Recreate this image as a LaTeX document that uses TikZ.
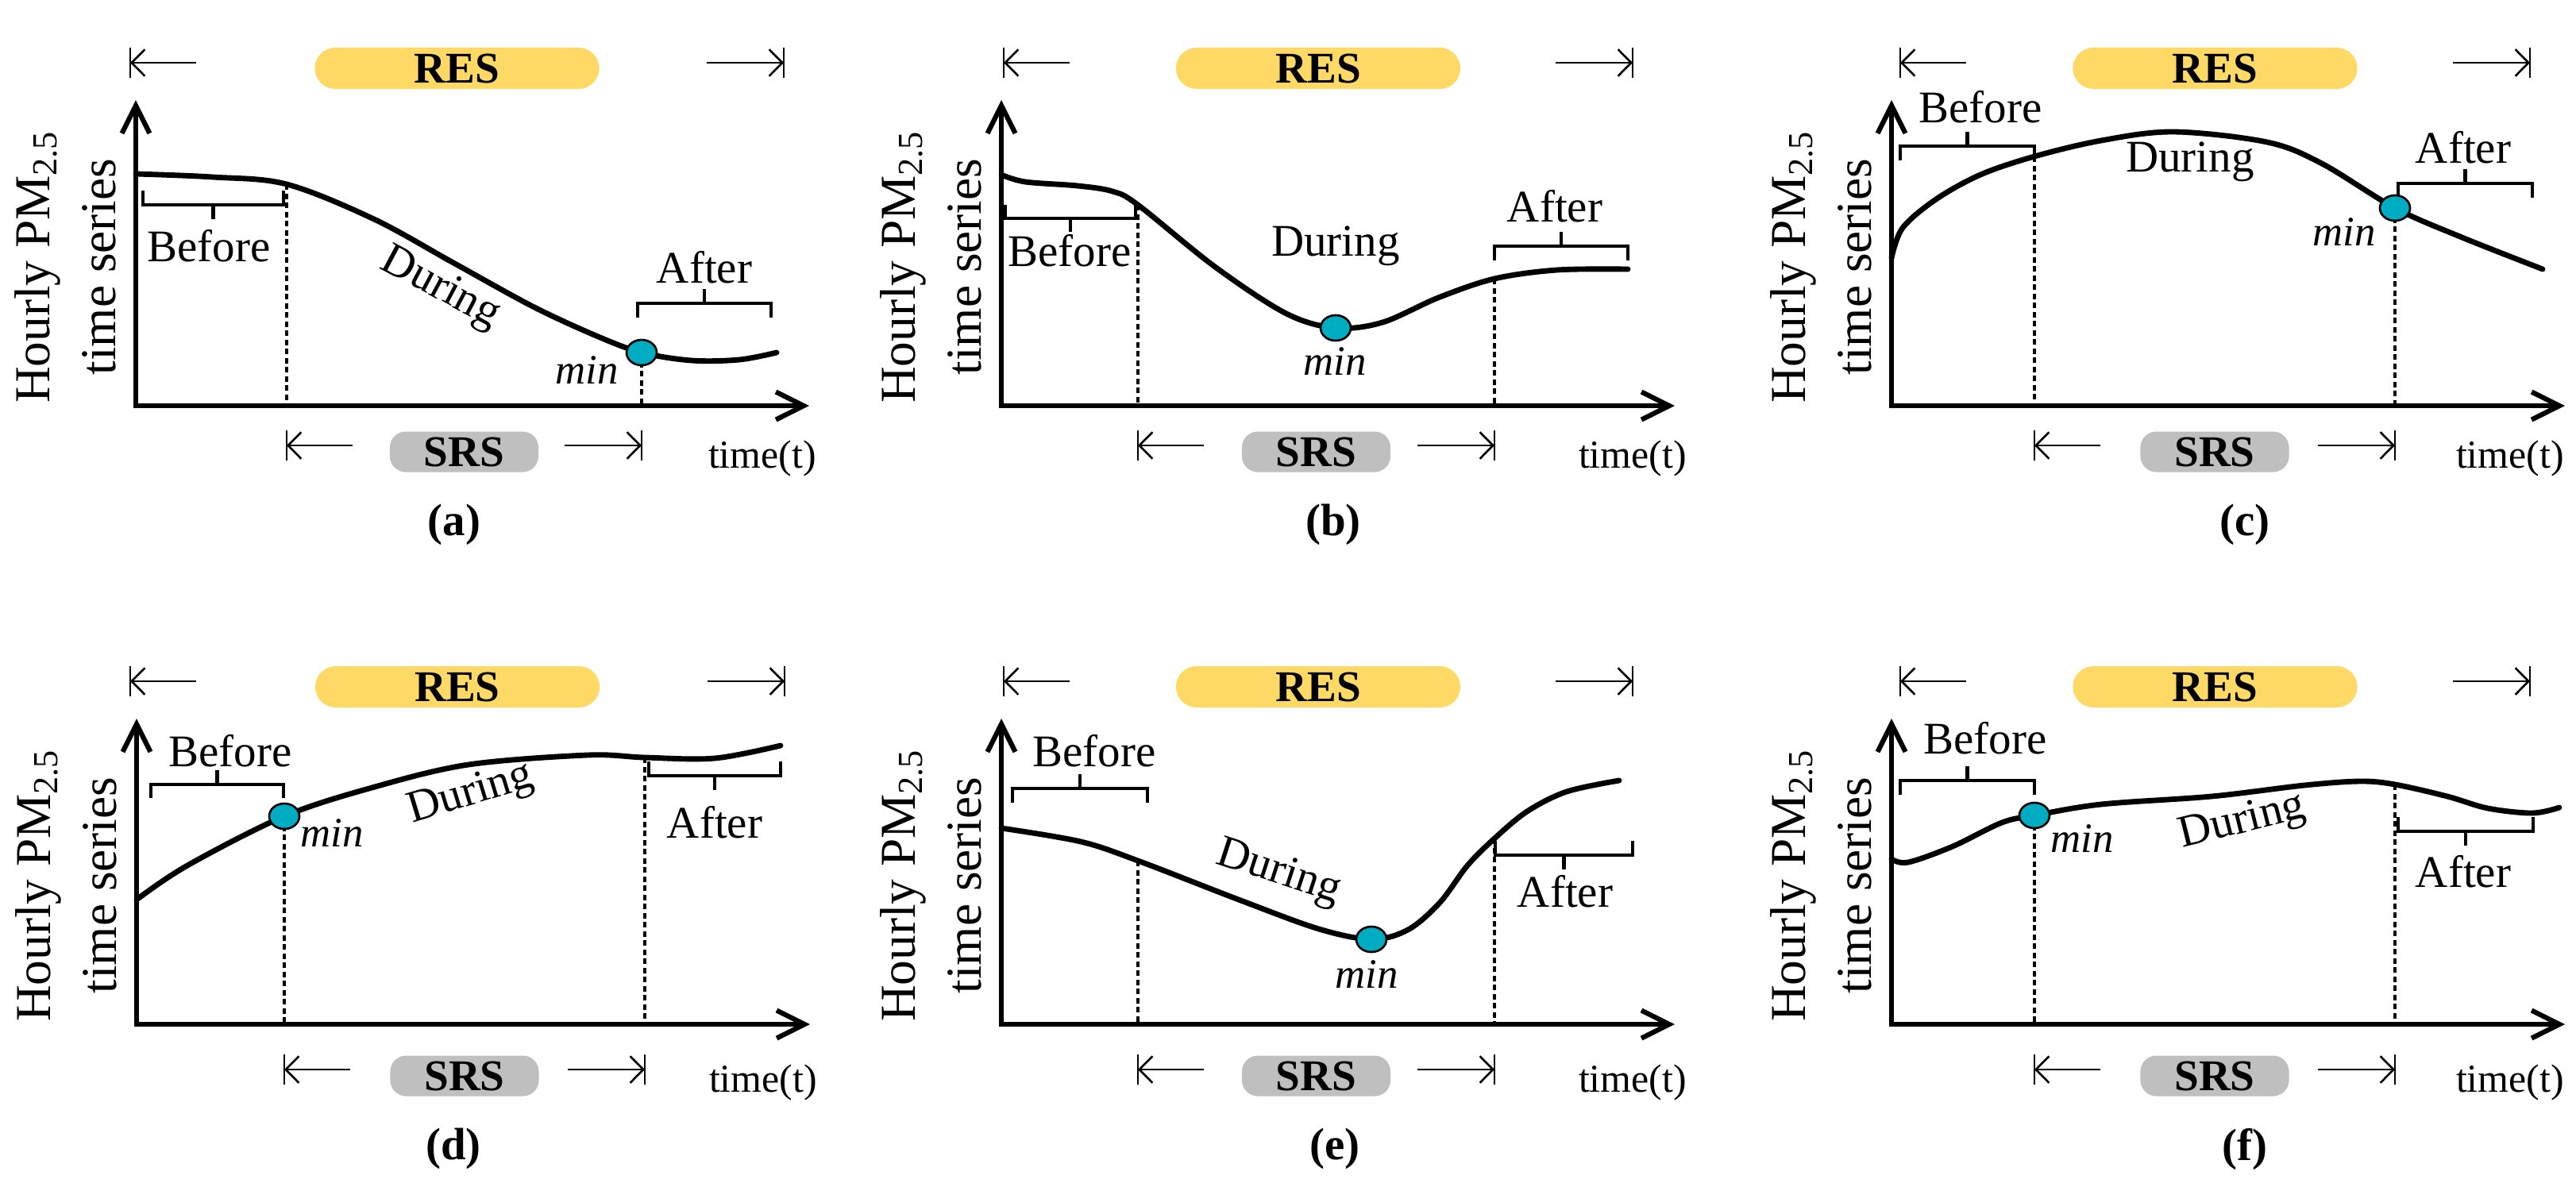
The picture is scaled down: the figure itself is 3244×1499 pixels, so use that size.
\documentclass[tikz,border=0pt]{standalone}
\usepackage{fontspec}
\setmainfont{Liberation Serif}
\usetikzlibrary{arrows.meta,shapes.geometric}
\definecolor{resY}{RGB}{255,217,102}
\definecolor{srsG}{RGB}{191,191,191}
\definecolor{minC}{RGB}{0,172,193}
\tikzset{
  axisarrow/.style={line width=1.75pt,
    {Straight Barb[length=3.5mm,width=3.5mm]}-{Straight Barb[length=3.5mm,width=3.5mm]}},
  thinline/.style={line width=0.75pt},
  thinarrow/.style={line width=0.75pt,-{Straight Barb[length=1.65mm,width=3.35mm]}},
  curve/.style={line width=1.95pt,line cap=round,line join=round},
  brk/.style={line width=1.4pt},
  dashline/.style={line width=1.05pt,dash pattern=on 0.07cm off 0.045cm},
  mindot/.style={ellipse,draw=black,line width=0.75pt,fill=minC,minimum width=0.38cm,minimum height=0.32cm,inner sep=0pt},
  txt/.style={font=\fontsize{16.2}{19}\selectfont,inner sep=0pt},
  mintxt/.style={font=\fontsize{15}{18}\selectfont\itshape,inner sep=0pt},
  timetxt/.style={font=\fontsize{14.2}{17}\selectfont,inner sep=0pt},
  labtxt/.style={font=\fontsize{16.2}{19}\selectfont\bfseries,inner sep=0pt},
  ylab/.style={font=\fontsize{18}{23.6}\selectfont,align=center,rotate=90,inner sep=0pt},
  respill/.style={fill=resY,rounded corners=0.26cm,minimum width=3.58cm,minimum height=0.52cm,inner sep=0pt,font=\fontsize{15.7}{18}\selectfont\bfseries},
  srspill/.style={fill=srsG,rounded corners=0.2cm,minimum width=1.87cm,minimum height=0.51cm,inner sep=0pt,font=\fontsize{15.7}{18}\selectfont\bfseries},
}
% #1 prefix, #2 ox, #3 oy, #4 RES left bar, #5 RES right bar, #6 x1, #7 x2, #8 label, #9 label x
\newcommand{\PanelFrame}[9]{%
\begin{scope}[shift={(#2,#3)}]
  \coordinate (#1-o) at (0,0);
  \coordinate (#1-yt) at (0,-385);
  \coordinate (#1-xt) at (848,0);
  \draw[axisarrow] (#1-yt) -- (#1-o) -- (#1-xt);
  \node[ylab] (#1-ylab) at (-89,-175) {Hourly PM\textsubscript{2.5}\\time series};
  % RES
  \coordinate (#1-rlb) at (#4,-432);
  \coordinate (#1-rls) at ({#4+83},-432);
  \coordinate (#1-rrb) at (#5,-432);
  \coordinate (#1-rrs) at ({#5-97},-432);
  \draw[thinline] (#4,-451) -- (#4,-413);
  \draw[thinline] (#5,-451) -- (#5,-413);
  \draw[thinarrow] (#1-rls) -- (#1-rlb);
  \draw[thinarrow] (#1-rrs) -- (#1-rrb);
  \node[respill] (#1-res) at ({(#4+#5)/2},-425) {RES};
  % SRS
  \coordinate (#1-slb) at (#6,{50+\rowdy});
  \coordinate (#1-sls) at ({#6+83},{50+\rowdy});
  \coordinate (#1-srb) at (#7,{50+\rowdy});
  \coordinate (#1-srs) at ({#7-97},{50+\rowdy});
  \draw[thinline] (#6,{31+\rowdy}) -- (#6,{69+\rowdy});
  \draw[thinline] (#7,{31+\rowdy}) -- (#7,{69+\rowdy});
  \draw[thinarrow] (#1-sls) -- (#1-slb);
  \draw[thinarrow] (#1-srs) -- (#1-srb);
  \node[srspill] (#1-srsn) at ({(#6+#7)/2},{58+\rowdy}) {SRS};
  \node[timetxt] (#1-time) at (\timex,{66+\rowdy}) {time(t)};
  \node[labtxt] (#1-lab) at (#9,{150+\rowdy}) {#8};
\end{scope}}
% bracket: #1 x1, #2 x2, #3 y, #4 end offset, #5 tick offset
\newcommand{\Brk}[5]{%
  \draw[brk] (#1,{#3+#4}) -- (#1,#3) -- (#2,#3) -- (#2,{#3+#4});
  \draw[brk] ({(#1+#2)/2},#3) -- ({(#1+#2)/2},{#3+#5});}
\begin{document}
\begin{tikzpicture}[x=0.01cm,y=-0.01cm]
\useasboundingbox (0,0) rectangle (3244,1499);
% ---------- frames ----------
\def\rowdy{0}
\def\timex{789}
\PanelFrame{a}{171}{511}{-7}{816}{190}{637}{(a)}{401}
\def\timex{795}
\PanelFrame{b}{1261}{511}{3}{795}{172}{621}{(b)}{418}
\def\timex{779}
\PanelFrame{c}{2382}{511}{11}{804}{180}{634}{(c)}{445}
\def\rowdy{7}
\def\timex{789}
\PanelFrame{d}{172}{1290}{-8}{816}{186}{640}{(d)}{399}
\def\timex{795}
\PanelFrame{e}{1261}{1290}{3}{795}{172}{621}{(e)}{420}
\def\timex{779}
\PanelFrame{f}{2382}{1290}{11}{804}{180}{634}{(f)}{445}
% ---------- (a) ----------
\begin{scope}[shift={(171,511)}]
  \coordinate (a-d1t) at (190,-279); \coordinate (a-d1b) at (190,0);
  \coordinate (a-d2t) at (637,-67);  \coordinate (a-d2b) at (637,0);
  \draw[dashline] (a-d1t) -- (a-d1b);
  \draw[dashline] (a-d2t) -- (a-d2b);
  \draw[curve] plot[smooth,tension=0.55] coordinates {(0,-292) (97,-288) (190,-279) (300,-235) (400,-180) (500,-125) (580,-88) (637,-67) (700,-57) (760,-58) (807,-67)};
  \Brk{9}{186}{-253}{-18}{18}
  \Brk{632}{800}{-129}{18}{-18}
  \node[mindot] (a-min) at (637,-67) {};
  \node[txt] (a-before) at (92,-201) {Before};
  \node[txt] (a-after) at (716,-174) {After};
  \node[txt,rotate=-28] (a-during) at (383,-147) {During};
  \node[mintxt] (a-mintxt) at (568,-45) {min};
\end{scope}
% ---------- (b) ----------
\begin{scope}[shift={(1261,511)}]
  \coordinate (b-d1t) at (172,-253); \coordinate (b-d1b) at (172,0);
  \coordinate (b-d2t) at (621,-160); \coordinate (b-d2b) at (621,0);
  \draw[dashline] (b-d1t) -- (b-d1b);
  \draw[dashline] (b-d2t) -- (b-d2b);
  \draw[curve] plot[smooth,tension=0.55] coordinates {(0,-291) (30,-282) (96,-277) (140,-270) (172,-253) (269,-175) (359,-116) (421,-98) (480,-105) (550,-136) (621,-160) (700,-171) (789,-172)};
  \Brk{5}{169}{-236}{-17}{17}
  \Brk{621}{789}{-201}{18}{-18}
  \node[mindot] (b-min) at (421,-98) {};
  \node[txt] (b-before) at (86,-195) {Before};
  \node[txt] (b-after) at (697,-251) {After};
  \node[txt] (b-during) at (421,-201) {During};
  \node[mintxt] (b-mintxt) at (420,-56) {min};
\end{scope}
% ---------- (c) ----------
\begin{scope}[shift={(2382,511)}]
  \coordinate (c-d1t) at (180,-314); \coordinate (c-d1b) at (180,0);
  \coordinate (c-d2t) at (634,-249); \coordinate (c-d2b) at (634,0);
  \draw[dashline] (c-d1t) -- (c-d1b);
  \draw[dashline] (c-d2t) -- (c-d2b);
  \draw[curve] plot[smooth,tension=0.55] coordinates {(0,-186) (14,-224) (56,-260) (112,-291) (180,-314) (264,-334) (355,-345) (473,-332) (542,-305) (634,-249) (716,-213) (820,-172)};
  \Brk{11}{180}{-327}{18}{-18}
  \Brk{638}{807}{-280}{18}{-18}
  \node[mindot] (c-min) at (634,-249) {};
  \node[txt] (c-before) at (112,-376) {Before};
  \node[txt] (c-after) at (720,-325) {After};
  \node[txt] (c-during) at (376,-307) {During};
  \node[mintxt] (c-mintxt) at (570,-219) {min};
\end{scope}
% ---------- (d) ----------
\begin{scope}[shift={(172,1290)}]
  \coordinate (d-d1t) at (186,-262); \coordinate (d-d1b) at (186,0);
  \coordinate (d-d2t) at (640,-336); \coordinate (d-d2b) at (640,0);
  \draw[dashline] (d-d1t) -- (d-d1b);
  \draw[dashline] (d-d2t) -- (d-d2b);
  \draw[curve] plot[smooth,tension=0.55] coordinates {(0,-157) (64,-200) (186,-262) (300,-299) (418,-327) (568,-339) (640,-336) (728,-335) (811,-351)};
  \Brk{18}{185}{-302}{17}{-18}
  \Brk{645}{811}{-313}{-18}{18}
  \node[mindot] (d-min) at (186,-262) {};
  \node[txt] (d-before) at (118,-344) {Before};
  \node[txt] (d-after) at (728,-254) {After};
  \node[txt,rotate=17] (d-during) at (421,-289) {During};
  \node[mintxt] (d-mintxt) at (246,-241) {min};
\end{scope}
% ---------- (e) ----------
\begin{scope}[shift={(1261,1290)}]
  \coordinate (e-d1t) at (172,-206); \coordinate (e-d1b) at (172,0);
  \coordinate (e-d2t) at (621,-234); \coordinate (e-d2b) at (621,0);
  \draw[dashline] (e-d1t) -- (e-d1b);
  \draw[dashline] (e-d2t) -- (e-d2b);
  \draw[curve] plot[smooth,tension=0.55] coordinates {(0,-247) (100,-230) (172,-206) (304,-155) (400,-120) (466,-107) (512,-119) (552,-153) (587,-200) (621,-234) (662,-268) (712,-293) (778,-307)};
  \Brk{14}{184}{-297}{18}{-18}
  \Brk{622}{795}{-213}{-18}{18}
  \node[mindot] (e-min) at (466,-107) {};
  \node[txt] (e-before) at (117,-344) {Before};
  \node[txt] (e-after) at (710,-167) {After};
  \node[txt,rotate=-18] (e-during) at (349,-190) {During};
  \node[mintxt] (e-mintxt) at (460,-63) {min};
\end{scope}
% ---------- (f) ----------
\begin{scope}[shift={(2382,1290)}]
  \coordinate (f-d1t) at (180,-263); \coordinate (f-d1b) at (180,0);
  \coordinate (f-d2t) at (634,-302); \coordinate (f-d2b) at (634,0);
  \draw[dashline] (f-d1t) -- (f-d1b);
  \draw[dashline] (f-d2t) -- (f-d2b);
  \draw[curve] plot[smooth,tension=0.55] coordinates {(0,-208) (21,-204) (77,-224) (139,-254) (180,-263) (264,-277) (403,-287) (520,-301) (590,-306) (634,-302) (700,-287) (751,-272) (807,-266) (841,-273)};
  \Brk{11}{180}{-307}{18}{-18}
  \Brk{638}{808}{-243}{-18}{18}
  \node[mindot] (f-min) at (180,-263) {};
  \node[txt] (f-before) at (118,-360) {Before};
  \node[txt] (f-after) at (720,-192) {After};
  \node[txt,rotate=14] (f-during) at (442,-254) {During};
  \node[mintxt] (f-mintxt) at (240,-234) {min};
\end{scope}
\end{tikzpicture}
\end{document}
